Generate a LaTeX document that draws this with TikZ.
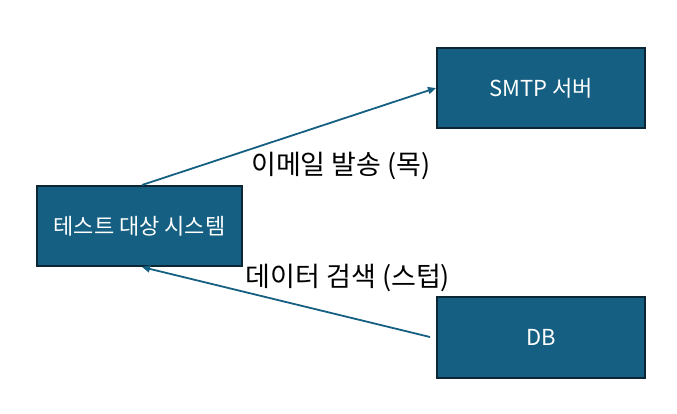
\documentclass[tikz,border=0pt]{standalone}
\usepackage{fontspec}
\setmainfont{Noto Sans CJK KR}
\usetikzlibrary{arrows.meta}
\definecolor{boxfill}{RGB}{21,96,130}
\definecolor{boxline}{RGB}{12,38,54}
\definecolor{arrowc}{RGB}{21,96,130}
\begin{document}
\begin{tikzpicture}[x=1pt,y=-1pt,
  sysbox/.style={draw=boxline,line width=2pt,fill=boxfill,text=white,font=\fontsize{22}{24}\selectfont,inner sep=0pt},
  conn/.style={draw=arrowc,line width=1.8pt,-{Triangle[length=8pt,width=7pt]}},
  lbl/.style={font=\fontsize{27}{29}\selectfont,text=black,inner sep=0pt}]
\useasboundingbox (0,0) rectangle (677,413);
\node[sysbox,minimum width=205pt,minimum height=80pt] (sys) at (139.5,226) {테스트 대상 시스템};
\node[sysbox,minimum width=208pt,minimum height=80pt] (smtp) at (541,88) {SMTP 서버};
\node[sysbox,minimum width=208pt,minimum height=81pt] (db) at (541,337.5) {DB};
\coordinate (dbstart) at (430,337);
\draw[conn] ([xshift=2.5pt]sys.north) -- (smtp.west);
\draw[conn] (dbstart) -- ([xshift=2.5pt]sys.south);
\node[lbl] (l1) at (341,166) {이메일 발송 (목)};
\node[lbl] (l2) at (348,278) {데이터 검색 (스텁)};
\end{tikzpicture}
\end{document}
